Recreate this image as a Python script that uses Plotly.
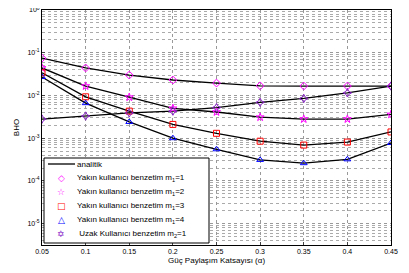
import plotly.graph_objects as go

alpha = [0.05, 0.10, 0.15, 0.20, 0.25, 0.30, 0.35, 0.40, 0.45]
yakin_m1_1 = [0.075, 0.044, 0.030, 0.023, 0.0195, 0.0168, 0.0166, 0.0166, 0.0166]
yakin_m1_2 = [0.044, 0.0166, 0.0091, 0.0050, 0.0041, 0.0031, 0.0028, 0.0028, 0.0036]
yakin_m1_3 = [0.034, 0.0093, 0.0043, 0.0021, 0.0013, 0.00085, 0.00069, 0.00081, 0.0014]
yakin_m1_4 = [0.027, 0.0066, 0.0024, 0.0010, 0.00055, 0.00031, 0.00026, 0.00032, 0.00077]
uzak_m2_1 = [0.0028, 0.0033, 0.0039, 0.0043, 0.0052, 0.0069, 0.0085, 0.0115, 0.0166]

x_ticks = [0.05, 0.1, 0.15, 0.2, 0.25, 0.3, 0.35, 0.4, 0.45]
x_tick_labels = ["0.05", "0.1", "0.15", "0.2", "0.25", "0.3", "0.35", "0.4", "0.45"]
y_ticks = [1, 0.1, 0.01, 0.001, 0.0001, 0.00001]
y_tick_labels = ["10<sup>0</sup>", "10<sup>-1</sup>", "10<sup>-2</sup>", "10<sup>-3</sup>",
                 "10<sup>-4</sup>", "10<sup>-5</sup>"]

series_names = [
    "Yakın kullanıcı benzetim m<sub>1</sub>=1",
    "Yakın kullanıcı benzetim m<sub>1</sub>=2",
    "Yakın kullanıcı benzetim m<sub>1</sub>=3",
    "Yakın kullanıcı benzetim m<sub>1</sub>=4",
    " Uzak Kullanıcı benzetim m<sub>2</sub>=1",
]
series_values = [yakin_m1_1, yakin_m1_2, yakin_m1_3, yakin_m1_4, uzak_m2_1]
series_symbols = ["diamond-open", "star-open", "square-open", "triangle-up-open", "star-diamond-open"]
legend_glyphs = ["◇", "☆", "□", "△", "✡"]
series_colors = ["#ff00ff", "#ff00ff", "#ff0000", "#0000ff", "#8a1fc9"]

# layout geometry; the page body adds an 8px offset, so the figure is sized to compensate
OFF = 8
W, H = 409 - OFF, 273 - OFF
L, R, T, B = 42 - OFF, 18, 10 - OFF, 28
PW, PH = W - L - R, H - T - B


def px(x):
    return (x - OFF - L) / PW


def py(y):
    return (T + PH - (y - OFF)) / PH


fig = go.Figure()
for vals in series_values:
    fig.add_trace(go.Scatter(x=alpha, y=vals, mode="lines", line=dict(color="black", width=1.3),
                             showlegend=False, hoverinfo="skip"))
for vals, name, sym, col in zip(series_values, series_names, series_symbols, series_colors):
    fig.add_trace(go.Scatter(x=alpha, y=vals, mode="markers", name=name, showlegend=False,
                             marker=dict(symbol=sym, color=col, size=6, line=dict(color=col, width=1))))

# manual legend (box, line sample, symbols, labels)
leg_rows = [164, 178, 192, 206, 220, 234]
fig.add_shape(type="rect", xref="paper", yref="paper", x0=px(44), x1=px(209), y0=py(243), y1=py(158),
              line=dict(color="black", width=1), fillcolor="white", layer="above")
fig.add_shape(type="line", xref="paper", yref="paper", x0=px(48), x1=px(75), y0=py(leg_rows[0]),
              y1=py(leg_rows[0]), line=dict(color="black", width=1.3), layer="above")
fig.add_annotation(xref="paper", yref="paper", x=px(75), y=py(leg_rows[0]), text="analitik",
                   showarrow=False, xanchor="left", yanchor="middle", font=dict(size=8))
for glyph, col, r in zip(legend_glyphs, series_colors, leg_rows[1:]):
    fig.add_annotation(xref="paper", yref="paper", x=px(61), y=py(r), text=glyph,
                       showarrow=False, xanchor="center", yanchor="middle",
                       font=dict(size=9, color=col, family="DejaVu Sans"))
for name, r in zip(series_names, leg_rows[1:]):
    fig.add_annotation(xref="paper", yref="paper", x=px(75), y=py(r), text=name,
                       showarrow=False, xanchor="left", yanchor="middle", font=dict(size=8))

fig.update_layout(
    width=W, height=H,
    margin=dict(l=L, r=R, t=T, b=B),
    paper_bgcolor="white", plot_bgcolor="white",
    font=dict(family="Liberation Sans, Arial", size=7, color="black"),
    showlegend=False,
    xaxis=dict(range=[0.05, 0.45], tickvals=x_ticks, ticktext=x_tick_labels,
               showline=True, linecolor="black", linewidth=1, mirror=True,
               showgrid=True, gridcolor="#999", griddash="dot", gridwidth=1,
               ticks="inside", ticklen=3, zeroline=False, automargin=False,
               ticklabeloverflow="allow",
               title=dict(text="Güç Paylaşım Katsayısı (α)", font=dict(size=8), standoff=2)),
    yaxis=dict(type="log", range=[-5.5, 0], tickvals=y_ticks, ticktext=y_tick_labels,
               showline=True, linecolor="black", linewidth=1, mirror=True,
               showgrid=True, gridcolor="#999", griddash="dot", gridwidth=1,
               ticks="inside", ticklen=3, zeroline=False, automargin=False,
               ticklabeloverflow="allow",
               minor=dict(showgrid=True, gridcolor="#aaa", griddash="dot", gridwidth=1,
                          dtick="D1"),
               title=dict(text="BHO", font=dict(size=8), standoff=6)),
)

fig.write_html("out.html")
